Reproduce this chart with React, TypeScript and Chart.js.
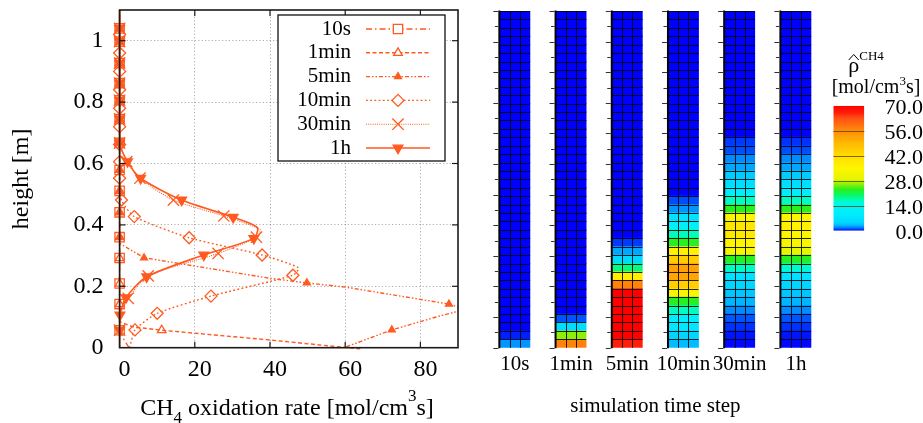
import React, { useEffect, useRef } from 'react';
import { Chart, registerables, PointElement } from 'chart.js';

Chart.register(...registerables);

const FONT = "'Liberation Serif', 'Times New Roman', Times, serif";
const ORANGE = '#ff5a1f';

const SERIES = ['10s', '1min', '5min', '10min', '30min', '1h'];

// ---------- left panel: CH4 oxidation-rate profiles ----------
// heights [m] / rates [mol/cm3s] / marker flags (1 = marker shown)
const H_10S = [0, 0.03, 0.057, 0.142, 0.209, 0.292, 0.36, 0.441, 0.511, 0.579, 0.667, 0.745, 0.806, 0.862, 0.927, 0.997, 1.04, 1.1];
const R_10S = [2.5, 1, 0, 0, 0, 0, 0, 0, 0, 0, 0, 0, 0, 0, 0, 0, 0, 0];
const MK_10S = [0, 0, 1, 1, 1, 1, 1, 1, 1, 1, 1, 1, 1, 1, 1, 1, 1, 0];

const H_1MIN = [-0.004, 0.025, 0.057, 0.068, 0.085, 0.142, 0.209, 0.292, 0.36, 0.441, 0.511, 0.579, 0.667, 0.745, 0.806, 0.862, 0.927, 0.997, 1.04, 1.1];
const R_1MIN = [64, 40, 11.2, 3.5, 0, 0, 0, 0, 0, 0, 0, 0, 0, 0, 0, 0, 0, 0, 0, 0];
const MK_1MIN = [0, 0, 1, 0, 0, 1, 1, 1, 1, 1, 1, 1, 1, 1, 1, 1, 1, 1, 1, 0];

const H_5MIN = [0.003, 0.058, 0.1, 0.125, 0.142, 0.197, 0.211, 0.226, 0.293, 0.34, 0.36, 0.441, 0.511, 0.579, 0.667, 0.745, 0.806, 0.862, 0.927, 0.997, 1.04, 1.1];
const R_5MIN = [60.3, 72.4, 84.2, 92, 87.6, 60.3, 49.8, 40, 6.5, 0, 0, 0, 0, 0, 0, 0, 0, 0, 0, 0, 0, 0];
const MK_5MIN = [0, 1, 0, 0, 1, 0, 1, 0, 1, 0, 1, 1, 1, 1, 1, 1, 1, 1, 1, 1, 1, 0];

const H_10MIN = [0, 0.058, 0.112, 0.168, 0.236, 0.26, 0.302, 0.358, 0.427, 0.481, 0.552, 0.606, 0.662, 0.72, 0.78, 0.84, 0.9, 0.96, 1.02, 1.1];
const R_10MIN = [2.7, 4.1, 10, 24.3, 46.1, 47.6, 37.9, 18.5, 3.9, 0.5, 0, 0, 0, 0, 0, 0, 0, 0, 0, 0];
const MK_10MIN = [0, 1, 1, 1, 1, 0, 1, 1, 1, 1, 1, 1, 1, 1, 1, 1, 1, 1, 1, 0];

const H_30MIN = [0, 0.057, 0.112, 0.161, 0.234, 0.307, 0.36, 0.385, 0.429, 0.481, 0.552, 0.606, 0.667, 0.745, 0.806, 0.862, 0.927, 0.997, 1.04, 1.1];
const R_30MIN = [0, 0, 0.3, 2.3, 7.6, 26.2, 36.4, 37.3, 27.7, 14.3, 5.4, 1.9, 0, 0, 0, 0, 0, 0, 0, 0];
const MK_30MIN = [0, 1, 0, 1, 1, 1, 1, 0, 1, 1, 1, 1, 1, 1, 1, 1, 1, 1, 1, 0];

const H_1H = [0, 0.057, 0.107, 0.163, 0.231, 0.302, 0.356, 0.392, 0.425, 0.481, 0.552, 0.606, 0.667, 0.745, 0.806, 0.862, 0.927, 0.997, 1.04, 1.1];
const R_1H = [0, 0, 0.1, 1.7, 7.2, 22.4, 35.7, 36.6, 30.2, 16.5, 5.6, 2.1, 0, 0, 0, 0, 0, 0, 0, 0];
const MK_1H = [0, 1, 1, 1, 1, 1, 1, 0, 1, 1, 1, 1, 1, 1, 1, 1, 1, 1, 1, 0];

const X_TICKS = [0, 20, 40, 60, 80];
const Y_TICKS = [0, 0.2, 0.4, 0.6, 0.8, 1];

// ---------- right panel: cell values per time step (row 0 = bottom) ----------
const CELL_H = 0.0275;
const HM_10S = [2.2, 0.4, 0, 0, 0, 0, 0, 0, 0, 0, 0, 0, 0, 0, 0, 0, 0, 0, 0, 0, 0, 0, 0, 0, 0, 0, 0, 0, 0, 0, 0, 0, 0, 0, 0, 0, 0, 0, 0, 0];
const HM_1MIN = [57, 26, 6, 1, 0, 0, 0, 0, 0, 0, 0, 0, 0, 0, 0, 0, 0, 0, 0, 0, 0, 0, 0, 0, 0, 0, 0, 0, 0, 0, 0, 0, 0, 0, 0, 0, 0, 0, 0, 0];
const HM_5MIN = [66, 75, 82, 88, 90, 82, 72, 57, 37, 19, 5, 2.6, 0.7, 0, 0, 0, 0, 0, 0, 0, 0, 0, 0, 0, 0, 0, 0, 0, 0, 0, 0, 0, 0, 0, 0, 0, 0, 0, 0, 0];
const HM_10MIN = [3.2, 4.5, 8, 10, 17, 23, 33, 45, 52, 53, 45, 36, 23, 17, 11, 7, 2.2, 0.9, 0, 0, 0, 0, 0, 0, 0, 0, 0, 0, 0, 0, 0, 0, 0, 0, 0, 0, 0, 0, 0, 0];
const HM_30MIN = [0.1, 0.25, 0.6, 1, 2, 2.9, 3.6, 4.5, 6.5, 17, 23, 33, 35, 39, 39, 34, 23, 17, 10, 6, 4, 2.6, 2, 0.9, 0.7, 0, 0, 0, 0, 0, 0, 0, 0, 0, 0, 0, 0, 0, 0, 0];
const HM_1H = [0.1, 0.25, 0.6, 1, 2, 2.9, 3.6, 4.5, 7, 16, 23, 29, 33, 35, 36, 34, 23, 17, 10, 6, 4, 2.6, 2, 0.9, 0.6, 0, 0, 0, 0, 0, 0, 0, 0, 0, 0, 0, 0, 0, 0, 0];
const HEAT_MAX = 1.1;
const HEAT_TICK_STEP = 0.05;
const CB_TICKS = [0, 14, 28, 42, 56, 70];

// colour map (value, r, g, b)
const CMAP = [
  [0, 0, 0, 255],
  [0.5, 0, 40, 255],
  [1, 0, 85, 255],
  [2, 0, 140, 255],
  [3, 0, 185, 255],
  [4.5, 0, 215, 255],
  [9, 0, 235, 255],
  [14, 0, 245, 240],
  [17, 0, 252, 190],
  [20, 10, 248, 100],
  [23, 40, 240, 30],
  [26, 140, 240, 10],
  [29, 230, 245, 0],
  [35, 255, 245, 0],
  [42, 255, 220, 0],
  [49, 255, 185, 0],
  [56, 255, 140, 10],
  [63, 255, 80, 20],
  [66, 255, 30, 10],
  [70, 255, 0, 0],
];

function cmapRGB(v: number): string {
  const t = Math.max(0, Math.min(70, v));
  for (let i = 1; i < CMAP.length; i++) {
    if (t <= CMAP[i][0]) {
      const a = CMAP[i - 1];
      const b = CMAP[i];
      const f = (t - a[0]) / (b[0] - a[0]);
      const c = [1, 2, 3].map((k) => Math.round(a[k] + (b[k] - a[k]) * f));
      return `rgb(${c[0]},${c[1]},${c[2]})`;
    }
  }
  const l = CMAP[CMAP.length - 1];
  return `rgb(${l[1]},${l[2]},${l[3]})`;
}

const STYLES: any[] = [
  { dash: [6, 3, 1.5, 3], style: 'rect', r: 6.6, fill: false, rot: 0, tension: 0, width: 1.4 },
  { dash: [4, 2.5], style: 'triangle', r: 5, fill: false, rot: 0, tension: 0, width: 1.4 },
  { dash: [4, 2, 1.5, 2, 1.5, 2], style: 'triangle', r: 4, fill: true, rot: 0, tension: 0, width: 1.4 },
  { dash: [1.8, 2.4], style: 'rectRot', r: 6, fill: false, rot: 0, tension: 0.2, width: 1.4 },
  { dash: [1, 1.2], style: 'crossRot', r: 8, fill: false, rot: 0, tension: 0.25, width: 1.1 },
  { dash: [], style: 'triangle', r: 5.6, fill: true, rot: 180, tension: 0.25, width: 1.6 },
];

const PROFILES = [
  [H_10S, R_10S, MK_10S],
  [H_1MIN, R_1MIN, MK_1MIN],
  [H_5MIN, R_5MIN, MK_5MIN],
  [H_10MIN, R_10MIN, MK_10MIN],
  [H_30MIN, R_30MIN, MK_30MIN],
  [H_1H, R_1H, MK_1H],
];

function drawRich(ctx: any, parts: any[], x: number, baseY: number, align: string) {
  const widths = parts.map((p) => {
    ctx.font = `${p.size}px ${FONT}`;
    return ctx.measureText(p.text).width;
  });
  const total = widths.reduce((s, w) => s + w, 0);
  let cx = align === 'center' ? x - total / 2 : x;
  ctx.textAlign = 'left';
  ctx.textBaseline = 'alphabetic';
  ctx.fillStyle = '#000';
  const pos: number[] = [];
  parts.forEach((p, i) => {
    ctx.font = `${p.size}px ${FONT}`;
    pos.push(cx);
    ctx.fillText(p.text, cx, baseY + p.dy);
    cx += widths[i];
  });
  return { pos, widths };
}

function line(ctx: any, x1: number, y1: number, x2: number, y2: number) {
  ctx.beginPath();
  ctx.moveTo(x1, y1);
  ctx.lineTo(x2, y2);
  ctx.stroke();
}

const frameA = {
  id: 'frameA',
  afterDatasetsDraw(chart: any) {
    const { ctx, chartArea: a, scales } = chart;
    ctx.save();
    ctx.setLineDash([]);
    ctx.strokeStyle = '#1a1a1a';
    ctx.lineWidth = 1.2;
    X_TICKS.forEach((v) => {
      if (v === 0) return;
      const x = scales.x.getPixelForValue(v);
      line(ctx, x, a.bottom, x, a.bottom - 6);
      line(ctx, x, a.top, x, a.top + 6);
    });
    Y_TICKS.forEach((v) => {
      if (v === 0) return;
      const y = scales.y.getPixelForValue(v);
      line(ctx, a.left, y, a.left + 6, y);
      line(ctx, a.right, y, a.right - 6, y);
    });
    ctx.lineWidth = 1.6;
    ctx.strokeRect(a.left, a.top, a.right - a.left, a.bottom - a.top);

    // legend
    const L = { x0: 278, y0: 15, x1: 445, y1: 161, textRight: 351, lx0: 366, lx1: 430, mx: 398, ry: 29, dy: 23.8 };
    ctx.fillStyle = '#fff';
    ctx.fillRect(L.x0, L.y0, L.x1 - L.x0, L.y1 - L.y0);
    ctx.strokeStyle = '#111';
    ctx.lineWidth = 1.3;
    ctx.strokeRect(L.x0, L.y0, L.x1 - L.x0, L.y1 - L.y0);
    chart.data.datasets.forEach((ds: any, i: number) => {
      const y = L.ry + i * L.dy;
      const st = STYLES[i];
      ctx.font = `21px ${FONT}`;
      ctx.textAlign = 'right';
      ctx.textBaseline = 'middle';
      ctx.fillStyle = '#000';
      ctx.fillText(ds.label, L.textRight, y);
      ctx.save();
      ctx.strokeStyle = ORANGE;
      ctx.lineWidth = st.width;
      ctx.setLineDash(st.dash);
      line(ctx, L.lx0, y, L.lx1, y);
      ctx.restore();
      ctx.setLineDash([]);
      const pt: any = new (PointElement as any)({
        x: L.mx,
        y,
        options: {
          pointStyle: st.style,
          rotation: st.rot,
          radius: st.r,
          hoverRadius: 0,
          borderWidth: 1.3,
          borderColor: ORANGE,
          backgroundColor: st.fill ? ORANGE : 'rgba(255,255,255,1)',
        },
      });
      pt.draw(ctx, chart.chartArea);
    });

    // x-axis title with sub/superscript
    drawRich(
      ctx,
      [
        { text: 'CH', size: 24, dy: 0 },
        { text: '4', size: 17, dy: 8 },
        { text: ' oxidation rate [mol/cm', size: 24, dy: 0 },
        { text: '3', size: 17, dy: -14 },
        { text: 's]', size: 24, dy: 0 },
      ],
      287,
      415,
      'center'
    );
    ctx.restore();
  },
};

const axesB = {
  id: 'axesB',
  afterDatasetsDraw(chart: any) {
    const { ctx } = chart;
    const ys = chart.scales.y;
    const m0 = chart.getDatasetMeta(0).data;
    const m1 = chart.getDatasetMeta(1).data;
    const m2 = chart.getDatasetMeta(2).data;
    const nRows = HM_10S.length;
    ctx.save();
    m0.forEach((el: any, i: number) => {
      const p0 = el.getProps(['x', 'width'], true);
      const p1 = m1[i].getProps(['x', 'width'], true);
      const p2 = m2[i].getProps(['x', 'width'], true);
      const left = p0.x - p0.width / 2;
      const right = p2.x + p2.width / 2;
      const yb = ys.getPixelForValue(0);
      const yt = ys.getPixelForValue(HEAT_MAX);
      // cell mesh
      ctx.strokeStyle = 'rgba(0,0,0,0.85)';
      ctx.lineWidth = 1;
      for (let r = 1; r <= nRows; r++) {
        const y = Math.round(ys.getPixelForValue(r * CELL_H)) + 0.5;
        line(ctx, left, y, right, y);
      }
      [p1.x - p1.width / 2, p2.x - p2.width / 2].forEach((xv) => {
        const x = Math.round(xv) + 0.5;
        line(ctx, x, yb, x, yt);
      });
      // column axis with ticks
      ctx.strokeStyle = '#000';
      ctx.lineWidth = 2;
      line(ctx, left - 0.5, yb + 0.5, left - 0.5, yt - 0.5);
      ctx.lineWidth = 1;
      ctx.strokeStyle = '#333';
      const n = Math.round(HEAT_MAX / HEAT_TICK_STEP);
      for (let k = 0; k <= n; k++) {
        const y = Math.round(ys.getPixelForValue(k * HEAT_TICK_STEP)) + 0.5;
        const len = k % 2 === 0 ? 5 : 3.5;
        line(ctx, left - 1.5 - len, y, left - 1.5, y);
      }
    });
    ctx.restore();
  },
};

const colorbarPlugin = {
  id: 'colorbarPlugin',
  afterDatasetsDraw(chart: any) {
    const { ctx, chartArea: a } = chart;
    const ys = chart.scales.y;
    ctx.save();
    ctx.strokeStyle = 'rgba(90,60,0,0.75)';
    ctx.lineWidth = 1;
    CB_TICKS.slice(1, -1).forEach((v) => {
      const y = Math.round(ys.getPixelForValue(v)) + 0.5;
      line(ctx, a.left, y, a.right, y);
    });
    ctx.restore();
  },
  afterDraw(chart: any) {
    const { ctx } = chart;
    ctx.save();
    const r = drawRich(
      ctx,
      [
        { text: 'ρ', size: 22, dy: 0 },
        { text: 'CH4', size: 13, dy: -11.5 },
      ],
      46,
      31.5,
      'center'
    );
    // hat over rho
    const hx = r.pos[0] + r.widths[0] / 2;
    ctx.strokeStyle = '#000';
    ctx.lineWidth = 1;
    ctx.beginPath();
    ctx.moveTo(hx - 5, 20);
    ctx.lineTo(hx, 14.5);
    ctx.lineTo(hx + 5, 20);
    ctx.stroke();
    drawRich(
      ctx,
      [
        { text: '[mol/cm', size: 20, dy: 0 },
        { text: '3', size: 13, dy: -8 },
        { text: 's]', size: 20, dy: 0 },
      ],
      56,
      53,
      'center'
    );
    ctx.restore();
  },
};

export default function App() {
  const refA = useRef<HTMLCanvasElement>(null);
  const refB = useRef<HTMLCanvasElement>(null);
  const refC = useRef<HTMLCanvasElement>(null);

  useEffect(() => {
    const datasetsA = PROFILES.map((p, i) => {
      const [H, R, MK] = p;
      const st = STYLES[i];
      return {
        label: SERIES[i],
        data: H.map((h, k) => ({ x: R[k], y: h })),
        borderColor: ORANGE,
        borderWidth: st.width,
        borderDash: st.dash,
        tension: st.tension,
        fill: false,
        pointStyle: st.style,
        pointRotation: st.rot,
        pointRadius: MK.map((m) => (m ? st.r : 0)),
        pointHoverRadius: 0,
        pointBorderWidth: 1.3,
        pointBorderColor: ORANGE,
        pointBackgroundColor: st.fill ? ORANGE : 'rgba(0,0,0,0)',
        clip: { left: 12, top: 2, right: 0, bottom: 3 },
      };
    });

    const chartA = new Chart(refA.current as any, {
      type: 'line',
      data: { datasets: datasetsA as any },
      options: {
        responsive: false,
        animation: false,
        events: [],
        layout: { padding: { left: 0, right: 12, top: 10, bottom: 0 } },
        plugins: { legend: { display: false }, tooltip: { enabled: false } },
        scales: {
          x: {
            type: 'linear',
            min: 0,
            max: 90,
            afterBuildTicks: (s: any) => {
              s.ticks = X_TICKS.map((v) => ({ value: v }));
            },
            afterFit: (s: any) => {
              s.height = 75.3;
              s.paddingLeft = 0;
              s.paddingRight = 0;
            },
            ticks: {
              font: { family: FONT, size: 24 },
              color: '#000',
              padding: 8,
              labelOffset: 5,
              maxRotation: 0,
              autoSkip: false,
              callback: (v: any) => String(v),
            },
            grid: { color: 'rgba(0,0,0,0.32)', lineWidth: 1, drawTicks: false },
            border: { display: false, dash: [1.2, 2.2] },
          },
          y: {
            type: 'linear',
            min: 0,
            max: 1.1,
            afterBuildTicks: (s: any) => {
              s.ticks = Y_TICKS.map((v) => ({ value: v }));
            },
            afterFit: (s: any) => {
              s.width = 119.6;
              s.paddingTop = 0;
              s.paddingBottom = 0;
            },
            ticks: {
              font: { family: FONT, size: 24 },
              color: '#000',
              padding: 16,
              autoSkip: false,
              callback: (v: any) => String(v),
            },
            grid: { color: 'rgba(0,0,0,0.32)', lineWidth: 1, drawTicks: false },
            border: { display: false, dash: [1.2, 2.2] },
            title: {
              display: true,
              text: 'height [m]',
              font: { family: FONT, size: 24 },
              color: '#000',
              padding: { top: 7, bottom: 0 },
            },
          },
        },
      } as any,
      plugins: [frameA],
    });

    const HM = [HM_10S, HM_1MIN, HM_5MIN, HM_10MIN, HM_30MIN, HM_1H];
    const datasetsB: any[] = [];
    for (let r = 0; r < HM_10S.length; r++) {
      for (let s = 0; s < 3; s++) {
        datasetsB.push({
          data: SERIES.map(() => CELL_H),
          backgroundColor: HM.map((col) => cmapRGB(col[r])),
          borderWidth: 0,
          inflateAmount: 0.4,
          stack: 'sub' + s,
          categoryPercentage: 0.534,
          barPercentage: 1,
        });
      }
    }

    const chartB = new Chart(refB.current as any, {
      type: 'bar',
      data: { labels: SERIES, datasets: datasetsB },
      options: {
        responsive: false,
        animation: false,
        events: [],
        layout: { padding: { left: 16.75, right: 6, top: 11, bottom: 0 } },
        plugins: { legend: { display: false }, tooltip: { enabled: false } },
        scales: {
          x: {
            type: 'category',
            stacked: true,
            afterFit: (s: any) => {
              s.height = 75.3;
              s.paddingLeft = 0;
              s.paddingRight = 0;
            },
            ticks: {
              font: { family: FONT, size: 21 },
              color: '#000',
              padding: 4,
              maxRotation: 0,
              autoSkip: false,
            },
            grid: { display: false, drawTicks: false },
            border: { display: false },
            title: {
              display: true,
              text: 'simulation time step',
              font: { family: FONT, size: 21 },
              color: '#000',
              padding: { top: 0, bottom: 4 },
            },
          },
          y: { type: 'linear', stacked: true, min: 0, max: HEAT_MAX, display: false },
        },
      } as any,
      plugins: [axesB],
    });

    const chartC = new Chart(refC.current as any, {
      type: 'bar',
      data: {
        labels: [''],
        datasets: [
          {
            data: [[CB_TICKS[0], CB_TICKS[CB_TICKS.length - 1]]],
            backgroundColor: (c: any) => {
              const ch = c.chart;
              if (!ch.chartArea) return 'rgba(0,0,0,0)';
              const ys = ch.scales.y;
              const y0 = ys.getPixelForValue(0);
              const y1 = ys.getPixelForValue(70);
              const g = ch.ctx.createLinearGradient(0, y0, 0, y1);
              CMAP.forEach((s) => g.addColorStop(s[0] / 70, `rgb(${s[1]},${s[2]},${s[3]})`));
              return g;
            },
            borderWidth: 0,
            barPercentage: 1,
            categoryPercentage: 1,
            inflateAmount: 0,
          } as any,
        ],
      },
      options: {
        responsive: false,
        animation: false,
        events: [],
        layout: { padding: { left: 13.3, right: 0, top: 65.7, bottom: 19.3 } },
        plugins: { legend: { display: false }, tooltip: { enabled: false } },
        scales: {
          x: { display: false },
          y: {
            position: 'right',
            min: 0,
            max: 70,
            afterBuildTicks: (s: any) => {
              s.ticks = CB_TICKS.map((v) => ({ value: v }));
            },
            afterFit: (s: any) => {
              s.width = 58.7;
              s.paddingTop = 0;
              s.paddingBottom = 0;
            },
            ticks: {
              font: { family: FONT, size: 22 },
              color: '#000',
              padding: 19,
              crossAlign: 'far',
              labelOffset: 3,
              autoSkip: false,
              callback: (v: any) => Number(v).toFixed(1),
            },
            grid: { display: false, drawTicks: false },
            border: { display: false },
          },
        },
      } as any,
      plugins: [colorbarPlugin],
    });

    return () => {
      chartA.destroy();
      chartB.destroy();
      chartC.destroy();
    };
  }, []);

  return (
    <div
      style={{
        position: 'fixed',
        left: 0,
        top: 0,
        width: 923,
        height: 423,
        background: '#fff',
        overflow: 'hidden',
      }}
    >
      <canvas ref={refA} width={470} height={423} style={{ position: 'absolute', left: 0, top: 0, width: 470, height: 423 }} />
      <canvas ref={refB} width={360} height={423} style={{ position: 'absolute', left: 470, top: 0, width: 360, height: 423 }} />
      <canvas ref={refC} width={103} height={210} style={{ position: 'absolute', left: 820, top: 40, width: 103, height: 210 }} />
    </div>
  );
}
